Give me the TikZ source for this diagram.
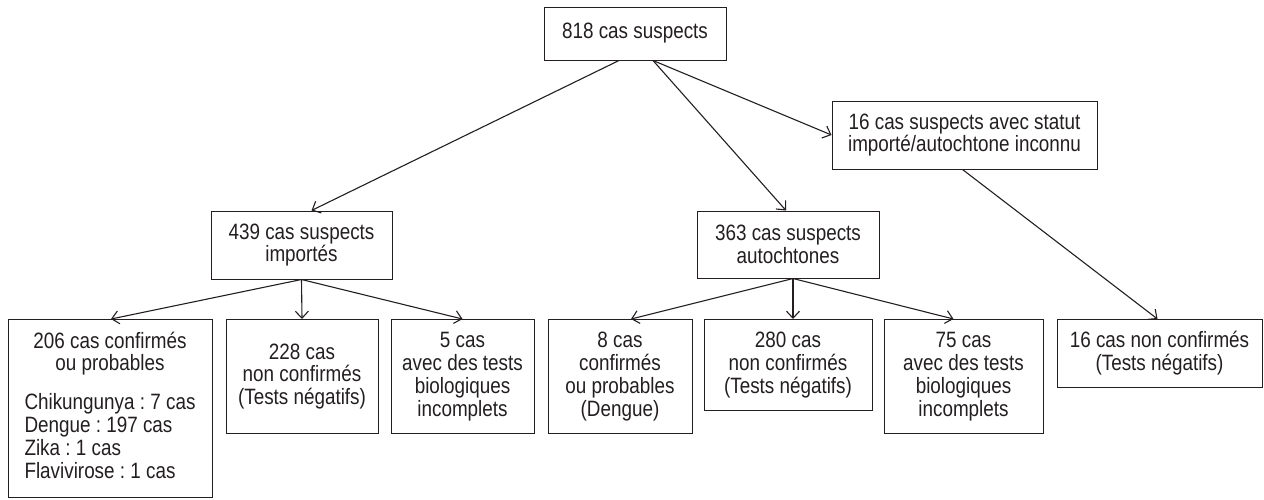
\documentclass[tikz,border=0pt]{standalone}
\usepackage{fontspec}
\setmainfont{Liberation Sans}[FakeStretch=0.85]
\usepackage{tikz}
\usetikzlibrary{arrows.meta}
\definecolor{ink}{RGB}{35,31,32}
\frenchspacing

\begin{document}
\begin{tikzpicture}[x=0.5pt,y=-0.5pt,>={Straight Barb[length=3.5pt,width=6.5pt]},
		box/.style={rectangle,draw=ink,line width=0.5pt,inner sep=2pt,align=center,text=ink,
			font=\fontsize{11.1}{11.4}\selectfont},
		row/.style={box,anchor=north}]
		\useasboundingbox (0,0) rectangle (1264,499);
		\node[box,minimum width=91pt,minimum height=26.5pt]    (all)  at (635,33.5)  {818 cas suspects};
		\node[box,minimum width=90.5pt,minimum height=34pt]    (imp)  at (301.5,245) {439 cas suspects\\importés};
		\node[box,minimum width=91pt,minimum height=33.5pt]    (aut)  at (788,244.5) {363 cas suspects\\autochtones};
		\node[box,minimum width=132.5pt,minimum height=34pt]   (unk)  at (964.5,135) {16 cas suspects avec statut\\importé/autochtone inconnu};
		
		\node[row,minimum width=102pt,minimum height=89pt]    (imp1) at (110,319)   {206 cas confirmés\\ou probables\\[8pt]
			\begin{tabular}[t]{@{}l@{}}Chikungunya : 7 cas\\Dengue : 197 cas\\Zika : 1 cas\\Flavivirose : 1 cas\end{tabular}};
		\node[row,minimum width=76pt,minimum height=57pt]     (imp2) at (302,319)   {228 cas\\non confirmés\\(Tests négatifs)};
		\node[row,minimum width=71.5pt,minimum height=57pt]   (imp3) at (462.5,319) {5 cas\\avec des tests\\biologiques\\incomplets};
		\node[row,minimum width=72pt,minimum height=57pt]     (aut1) at (620,319)   {8 cas\\confirmés\\ou probables\\(Dengue)};
		\node[row,minimum width=84pt,minimum height=45.5pt]   (aut2) at (788,319)   {280 cas\\non confirmés\\(Tests négatifs)};
		\node[row,minimum width=79.5pt,minimum height=57pt]   (aut3) at (963.5,319) {75 cas\\avec des tests\\biologiques\\incomplets};
		\node[row,minimum width=102.5pt,minimum height=34pt]  (unk1) at (1159.5,319) {16 cas non confirmés\\(Tests négatifs)};
		
		\path[->,color=ink,line width=0.55pt]
		([xshift=-8pt]all.south) edge ([xshift=5pt]imp.north)
		([xshift=9pt]all.south) edge ([xshift=-1pt]aut.north)
		([xshift=9pt]all.south) edge (unk.west)
		(imp.south) edge ([xshift=0.5pt]imp1.north)
		(imp.south) edge (imp2.north)
		(imp.south) edge (imp3.north)
		([xshift=2.5pt]aut.south) edge ([xshift=5.5pt]aut1.north)
		([xshift=2.5pt]aut.south) edge ([xshift=2.5pt]aut2.north)
		([xshift=2.5pt]aut.south) edge ([xshift=-5pt]aut3.north)
		([xshift=-1pt]unk.south) edge ([xshift=-1pt]unk1.north);
\end{tikzpicture}
\end{document}
